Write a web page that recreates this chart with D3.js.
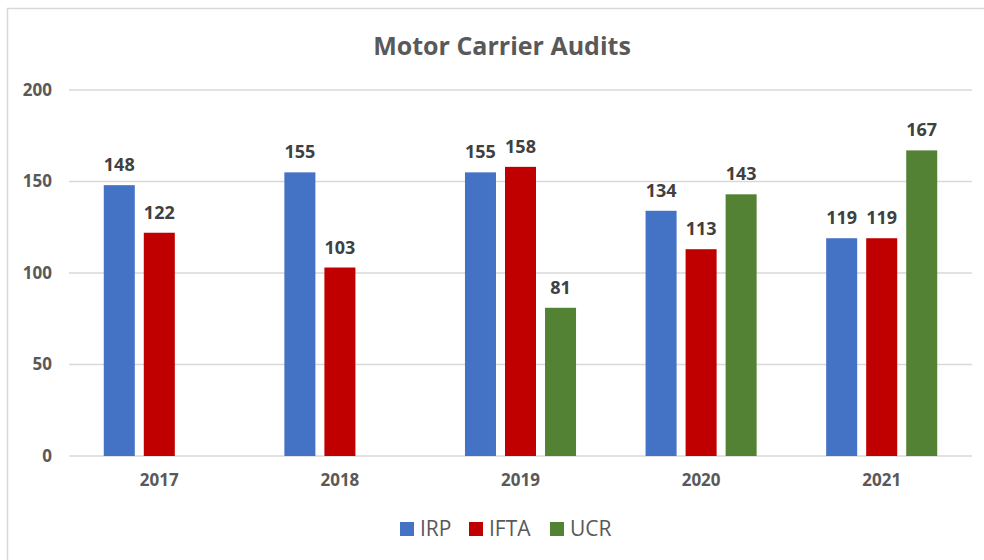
<!DOCTYPE html>
<html>
<head>
<meta charset="utf-8">
<script src="https://cdn.jsdelivr.net/npm/d3@7"></script>
<style>
  body { margin: 0; background: #fff; }
  svg text { font-family: "Open Sans", sans-serif; }
</style>
</head>
<body>
<svg width="984" height="560"></svg>
<script>
// chart data
let years = ["2017", "2018", "2019", "2020", "2021"];
let seriesNames = ["IRP", "IFTA", "UCR"];
let irp = [148, 155, 155, 134, 119];
let ifta = [122, 103, 158, 113, 119];
let ucr = [null, null, 81, 143, 167];
let yTicks = [0, 50, 100, 150, 200];
let colors = ["#4472C4", "#C00000", "#548235"];

let svg = d3.select("svg");
var padding = {t: 90, r: 12, b: 104, l: 69};
var chartWidth = 984 - padding.l - padding.r;
var chartHeight = 560 - padding.t - padding.b;

// frame of the chart area
svg.append("rect")
  .attr("x", 7.5).attr("y", 8.5)
  .attr("width", 1000).attr("height", 600)
  .attr("fill", "none")
  .attr("stroke", "#d9d9d9")
  .attr("stroke-width", 1.5);

svg.append("text")
  .attr("x", 502).attr("y", 55)
  .attr("text-anchor", "middle")
  .style("font-size", "25px")
  .style("font-weight", 700)
  .style("fill", "#595959")
  .text("Motor Carrier Audits");

let chartG = svg.append("g")
  .attr("transform", "translate(" + padding.l + "," + padding.t + ")");

var y = d3.scaleLinear().domain([0, 200]).range([chartHeight, 0]);
var x0 = d3.scaleBand().domain(years).range([0, chartWidth]);
var groupW = x0.bandwidth() * 0.615;
var x1 = d3.scaleBand().domain(seriesNames).range([0, groupW]).paddingInner(0.225);

// gridlines
chartG.selectAll(".grid")
  .data(yTicks)
  .join("line")
    .attr("x1", 0).attr("x2", chartWidth)
    .attr("y1", d => y(d)).attr("y2", d => y(d))
    .attr("stroke", "#d9d9d9")
    .attr("stroke-width", 1.5);

// y axis labels
let yAxis = chartG.append("g")
  .call(d3.axisLeft(y).tickValues(yTicks).tickSize(0).tickPadding(17));
yAxis.select(".domain").remove();
yAxis.selectAll("text")
  .style("font-family", "Open Sans")
  .style("font-size", "17px")
  .style("font-weight", 700)
  .style("fill", "#595959");

// x axis labels
let xAxis = chartG.append("g")
  .attr("transform", "translate(0," + chartHeight + ")")
  .call(d3.axisBottom(x0).tickSize(0).tickPadding(18));
xAxis.select(".domain").remove();
xAxis.selectAll("text")
  .style("font-family", "Open Sans")
  .style("font-size", "17px")
  .style("font-weight", 700)
  .style("fill", "#595959");

let rows = [];
years.forEach((yr, i) => {
  [irp, ifta, ucr].forEach((arr, j) => {
    if (arr[i] != null) rows.push({year: yr, series: seriesNames[j], value: arr[i], color: colors[j]});
  });
});

let barsG = chartG.append("g");
barsG.selectAll("rect")
  .data(rows)
  .join("rect")
    .attr("x", d => x0(d.year) + (x0.bandwidth() - groupW) / 2 + x1(d.series))
    .attr("y", d => y(d.value))
    .attr("width", x1.bandwidth())
    .attr("height", d => chartHeight - y(d.value))
    .attr("fill", d => d.color);

// value labels
barsG.selectAll("text")
  .data(rows)
  .join("text")
    .attr("x", d => x0(d.year) + (x0.bandwidth() - groupW) / 2 + x1(d.series) + x1.bandwidth() / 2)
    .attr("y", d => y(d.value) - 14)
    .attr("text-anchor", "middle")
    .style("font-size", "18px")
    .style("font-weight", 700)
    .style("fill", "#404040")
    .text(d => d.value);

// legend
let legendX = [400, 469, 550];
let legend = svg.append("g");
seriesNames.forEach((name, i) => {
  legend.append("rect")
    .attr("x", legendX[i]).attr("y", 522)
    .attr("width", 14).attr("height", 14)
    .attr("fill", colors[i]);
  legend.append("text")
    .attr("x", legendX[i] + 20).attr("y", 536)
    .style("font-size", "21px")
    .style("font-weight", 500)
    .style("fill", "#595959")
    .text(name);
});
</script>
</body>
</html>
